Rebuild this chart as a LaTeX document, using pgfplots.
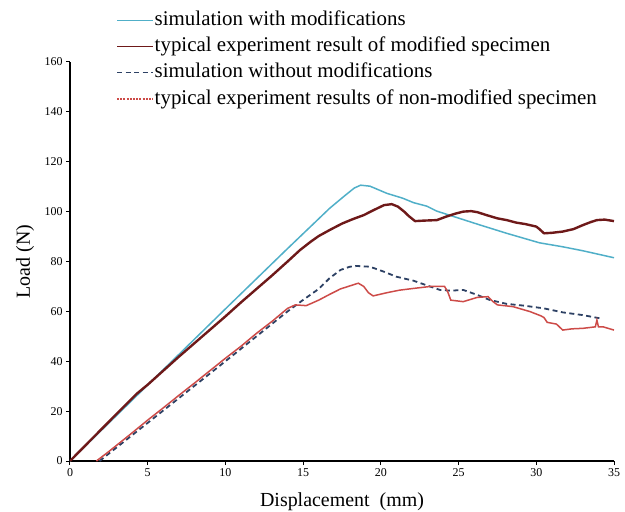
\documentclass[border=0pt]{standalone}
\usepackage{fontspec}
\setmainfont{Liberation Serif}
\usepackage{pgfplots}
\pgfplotsset{compat=1.18}
\definecolor{cblue}{RGB}{80,175,200}
\definecolor{cbrown}{RGB}{110,25,25}
\definecolor{cdash}{RGB}{45,65,100}
\definecolor{cred}{RGB}{205,75,72}
\begin{document}
\begin{tikzpicture}
\useasboundingbox (-70bp,-51bp) rectangle (555bp,461bp);
\begin{axis}[
  scale only axis,
  width=544bp, height=399bp,
  at={(0,0)}, anchor=south west,
  xmin=0, xmax=35, ymin=0, ymax=160,
  xtick={0,5,...,35}, ytick={0,20,...,160},
  axis lines=left,
  axis line style={-, line width=1.3bp, black},
  tick style={line width=1bp, black},
  major tick length=4bp,
  tick align=outside,
  /pgf/number format/assume math mode=true,
  ticklabel style={font=\fontsize{12}{14}\selectfont},
  xlabel={Displacement\ \ (mm)},
  ylabel={Load (N)},
  every axis x label/.style={at={(axis description cs:0.5,0)}, yshift=-41bp, anchor=center, font=\fontsize{20}{24}\selectfont},
  every axis y label/.style={at={(axis description cs:0,0.5)}, xshift=-45bp, anchor=center, rotate=90, font=\fontsize{20}{24}\selectfont},
  legend cell align=left,
  legend image code/.code={\draw[#1, line width=1.2bp] (0bp,0bp) -- (36bp,0bp);},
  legend style={at={(axis description cs:0.085,1.1303)}, anchor=north west, draw=none, fill=none,
    font=\fontsize{21}{26}\selectfont, inner sep=0pt, row sep=6.3bp, column sep=1bp,
    nodes={inner sep=0pt, text height=15bp, text depth=5bp}},
]
\addplot[cblue, line width=1.5bp] coordinates {
(0,0) (5,30.5) (10,61) (13.9,84.6) (16.7,101.3) (17.7,106.5) (18.3,109.5) (18.7,110.6)
(19.3,110.2) (20.4,107.3) (21.4,105.4) (22.1,103.6) (22.95,102.2) (23.6,100.2) (24.9,97.6)
(26.4,94.6) (28.1,91.3) (30.2,87.5) (31.7,85.9) (33,84.3) (35,81.5)};
\addlegendentry{simulation with modifications}
\addplot[cbrown, line width=2.4bp, line join=round] coordinates {
(0,0) (1,6.3) (2,12.6) (3,18.9) (4.3,27) (5,30.6) (6,36.2) (7,41.8) (8,47.2) (9,52.6)
(10,58) (11,63.6) (12,69) (13,74.4) (14,80) (14.8,84.6) (15.5,88) (16,90.2) (16.7,92.6)
(17.5,95.2) (18.2,97) (18.9,98.6) (19.5,100.5) (20.2,102.6) (20.7,103) (21.1,102) (21.5,100)
(21.8,98.2) (22.2,96.2) (22.8,96.4) (23.6,96.6) (24.2,98) (24.8,99.2) (25.3,100) (25.8,100.2)
(26.2,99.8) (26.8,98.6) (27.5,97.3) (28.1,96.6) (28.7,95.6) (29.3,95) (30.0,94) (30.2,93)
(30.5,91.3) (31.0,91.5) (31.7,92) (32.4,93) (33.0,94.6) (33.5,95.8) (33.9,96.6) (34.4,96.8) (35,96.2)};
\addlegendentry{typical experiment result of modified specimen}
\addplot[cdash, line width=1.8bp, dash pattern=on 5bp off 3.5bp] coordinates {
(1.9,0) (5,15.3) (10,40) (14,60) (15,64.6) (16,69) (16.7,73.3) (17.4,76.6) (18.0,77.9)
(18.45,78.2) (19.3,77.9) (20.2,75.9) (21.0,73.9) (22.1,72.3) (23.2,69.9) (23.8,68.6)
(24.5,68.3) (25.3,68.6) (26.2,66.6) (27.0,64.6) (28.1,63) (29.2,62.3) (30.5,61.2)
(31.7,59.6) (33.0,58.5) (34.1,57.2)};
\addlegendentry{simulation without modifications}
\addplot[cred, line width=1.5bp, forget plot] coordinates {
(1.7,0) (2.5,3.8) (3,6.3) (4,11.3) (5,16.4) (6,21.3) (7,26.3) (8,31.2) (9,36.2) (10,41.2)
(11,46) (12,51.2) (13,56) (14,61.2) (14.5,62.6) (15.2,62.3) (16,64.5) (16.7,66.8) (17.4,69)
(18,70.2) (18.55,71.3) (18.9,70) (19.2,67.5) (19.5,66.2) (20.4,67.5) (21.2,68.5) (22.1,69.2)
(23.2,70) (24.1,70) (24.3,67.9) (24.5,64.5) (25.3,63.9) (26.2,65.6) (26.9,65.9) (27.2,64)
(27.5,62.6) (28.5,61.9) (29.6,59.9) (30.3,58.2) (30.5,57.5) (30.7,55.6) (31.3,54.9)
(31.7,52.5) (32.3,53) (33.0,53.2) (33.8,53.8) (33.9,56.5) (34.0,53.8) (34.3,53.8) (35.0,52.5)};
\addlegendimage{legend image code/.code={\draw[cred, line width=1.3bp, dash pattern=on 2bp off 1.2bp] (0bp,0bp) -- (36bp,0bp);}}
\addlegendentry{typical experiment results of non-modified specimen}
\end{axis}
\end{tikzpicture}
\end{document}
